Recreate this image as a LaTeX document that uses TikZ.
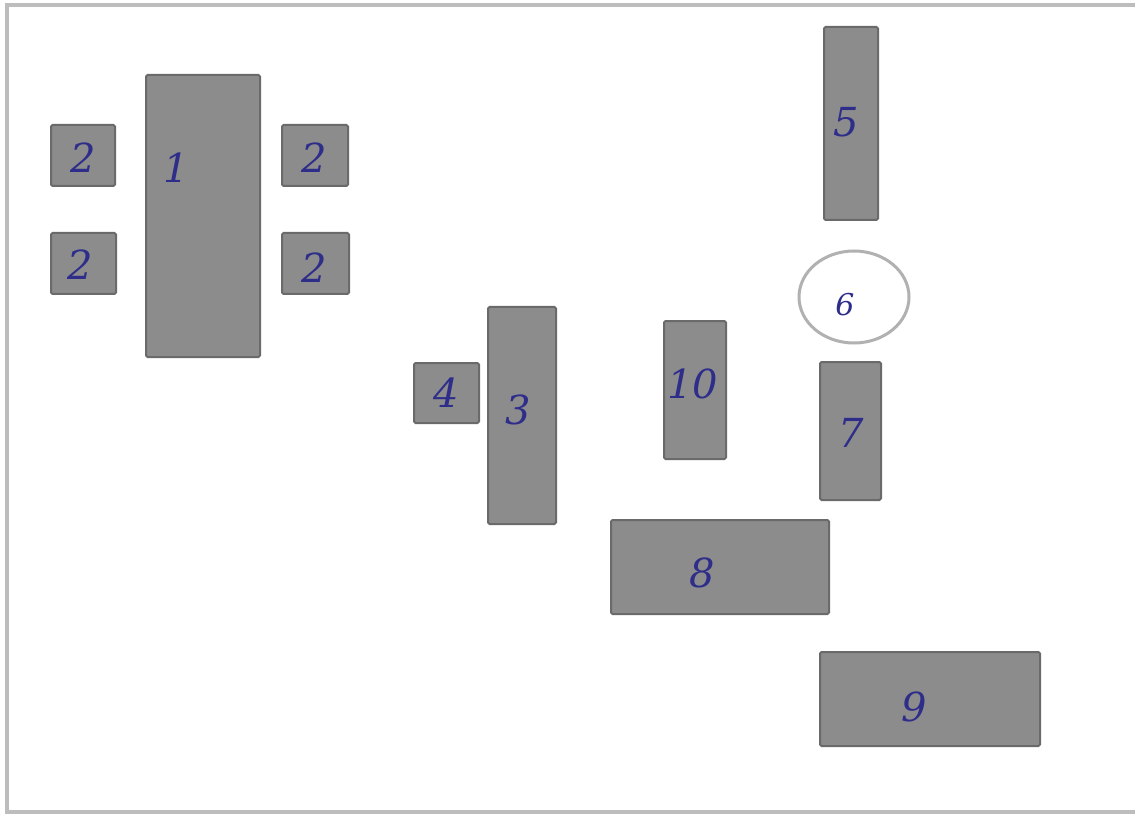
\documentclass[tikz,border=0pt]{standalone}
\usepackage{fontspec}
\setmainfont{DejaVu Serif}
\definecolor{boxfill}{HTML}{8C8C8C}
\definecolor{boxdraw}{HTML}{6A6A6A}
\definecolor{ink}{HTML}{2E2E8A}
\definecolor{framec}{HTML}{BDBDBD}
\begin{document}
\begin{tikzpicture}[x=1pt,y=-1pt,
  blk/.style={fill=boxfill,draw=boxdraw,line width=2pt,rounded corners=1.5pt},
  lbl/.style={text=ink,font=\fontsize{40}{40}\selectfont\itshape,inner sep=0pt}]
\useasboundingbox (0,0) rectangle (1135,818);
\fill[white] (0,0) rectangle (1135,818);
\draw[framec,line width=4pt] (1135,5) -- (7,5) -- (7,812) -- (1135,812);
% boxes
\draw[blk] (146,75) rectangle (260,357);
\draw[blk] (51,125) rectangle (115,186);
\draw[blk] (51,233) rectangle (116,294);
\draw[blk] (282,125) rectangle (348,186);
\draw[blk] (282,233) rectangle (349,294);
\draw[blk] (824,27) rectangle (878,220);
\draw[blk] (820,362) rectangle (881,500);
\draw[blk] (664,321) rectangle (726,459);
\draw[blk] (488,307) rectangle (556,524);
\draw[blk] (414,363) rectangle (479,423);
\draw[blk] (611,520) rectangle (829,614);
\draw[blk] (820,652) rectangle (1040,746);
\draw[framec!80!gray,line width=3pt] (854,297) ellipse [x radius=55, y radius=46];
% labels
\node[lbl] (n1) at (176,168) {1};
\node[lbl] (n2a) at (83,158) {2};
\node[lbl] (n2b) at (80,265) {2};
\node[lbl] (n2c) at (314,158) {2};
\node[lbl] (n2d) at (314,268) {2};
\node[lbl] (n5) at (846,122) {5};
\node[lbl,font=\fontsize{30}{30}\selectfont\itshape] (n6) at (845,305) {6};
\node[lbl] (n10) at (693,384) {10};
\node[lbl] (n7) at (851,433) {7};
\node[lbl] (n3) at (518,410) {3};
\node[lbl] (n4) at (446,393) {4};
\node[lbl] (n8) at (702,573) {8};
\node[lbl] (n9) at (914,707) {9};
\end{tikzpicture}
\end{document}
